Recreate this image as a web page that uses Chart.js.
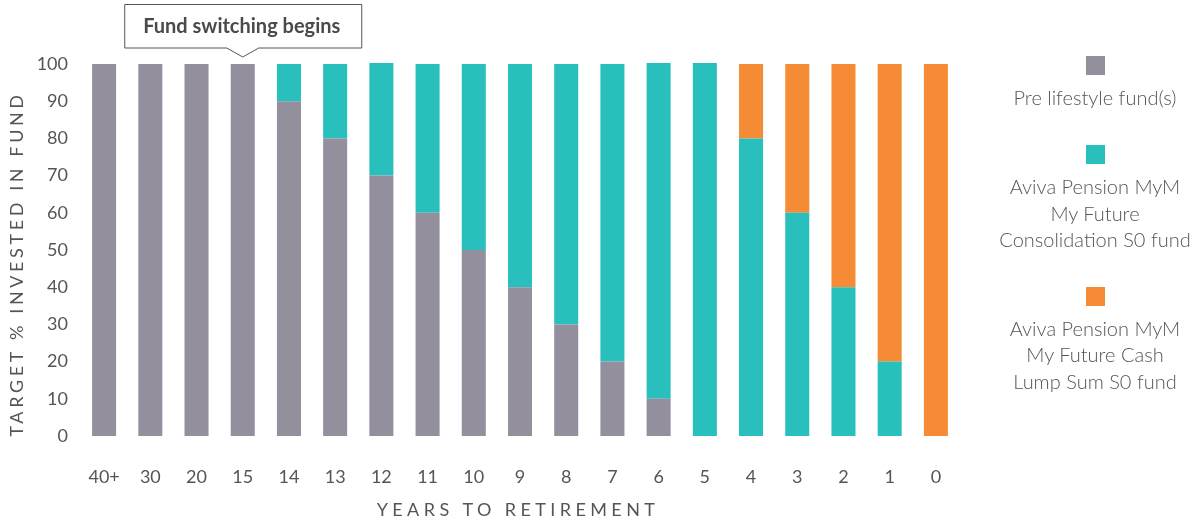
<!DOCTYPE html>
<html>
<head>
<meta charset="utf-8">
<script src="https://cdn.jsdelivr.net/npm/chart.js@4/dist/chart.umd.min.js"></script>
<style>
  html, body { margin: 0; padding: 0; background: #fff; }
  #wrap { position: relative; width: 1200px; height: 523px; }
  #legend { position: absolute; left: 985px; top: 56px; width: 220px; text-align: center;
    font-family: Lato, "Open Sans", sans-serif; font-weight: 300; font-size: 20px; color: #555; line-height: 26.3px; }
  .item { margin-bottom: 35px; }
  .sw { width: 19px; height: 19px; margin: 0 auto 9px auto; }
</style>
</head>
<body>
<div id="wrap">
  <canvas id="c" width="1200" height="523"></canvas>
  <div id="legend"></div>
</div>
<script>
const categories = ["40+","30","20","15","14","13","12","11","10","9","8","7","6","5","4","3","2","1","0"];
const preLifestyle = [100,100,100,100,90,80,70,60,50,40,30,20,10,0,0,0,0,0,0];
const consolidation = [0,0,0,0,10,20,30.3,40,50,60,70,80,90.3,100.3,80,60,40,20,0];
const cashLumpSum = [0,0,0,0,0,0,0,0,0,0,0,0,0,0,20,40,60,80,100];
const seriesLabels = [
  ["Pre lifestyle fund(s)"],
  ["Aviva Pension MyM","My Future","Consolidation S0 fund"],
  ["Aviva Pension MyM","My Future Cash","Lump Sum S0 fund"]
];
const seriesColors = ["#948f9c", "#29bfbc", "#f58c35"];
const yTicks = [0,10,20,30,40,50,60,70,80,90,100];
const yTitle = "TARGET % INVESTED IN FUND";
const xTitle = "YEARS TO RETIREMENT";
const calloutText = "Fund switching begins";
const calloutCategory = "15";

const FONT = 'Lato, "Open Sans", sans-serif';

const decor = {
  id: 'decor',
  afterDraw(chart) {
    const ctx = chart.ctx, ca = chart.chartArea;
    ctx.save();
    // axis titles
    ctx.fillStyle = '#555';
    ctx.font = '18px ' + FONT;
    ctx.textAlign = 'center';
    ctx.textBaseline = 'middle';
    ctx.letterSpacing = '4.4px';
    ctx.fillText(xTitle, (ca.left + ca.right) / 2 - 2, 510);
    ctx.letterSpacing = '3.6px';
    ctx.save();
    ctx.translate(17, 264);
    ctx.rotate(-Math.PI / 2);
    ctx.fillText(yTitle, 0, 0);
    ctx.restore();
    ctx.letterSpacing = '0px';
    // callout
    const px = chart.scales.x.getPixelForValue(categories.indexOf(calloutCategory));
    const bx = px - 118, bw = 237, by = 4.5, bh = 43.5;
    const apexY = 57;
    ctx.strokeStyle = '#555';
    ctx.lineWidth = 1;
    ctx.fillStyle = '#fff';
    ctx.beginPath();
    ctx.moveTo(bx, by);
    ctx.lineTo(bx + bw, by);
    ctx.lineTo(bx + bw, by + bh);
    ctx.lineTo(px + 16, by + bh);
    ctx.lineTo(px, apexY);
    ctx.lineTo(px - 16, by + bh);
    ctx.lineTo(bx, by + bh);
    ctx.closePath();
    ctx.fill();
    ctx.stroke();
    ctx.fillStyle = '#4a4a4a';
    ctx.font = 'bold 20px ' + FONT;
    ctx.fillText(calloutText, px - 1, 27);
    ctx.restore();
  }
};

const chart = new Chart(document.getElementById('c'), {
  type: 'bar',
  data: {
    labels: categories,
    datasets: [
      { label: seriesLabels[0].join(' '), data: preLifestyle, backgroundColor: seriesColors[0] },
      { label: seriesLabels[1].join(' '), data: consolidation, backgroundColor: seriesColors[1] },
      { label: seriesLabels[2].join(' '), data: cashLumpSum, backgroundColor: seriesColors[2] }
    ].map(d => Object.assign(d, { barPercentage: 0.52, categoryPercentage: 1, borderWidth: 0, clip: false }))
  },
  options: {
    responsive: false,
    animation: false,
    layout: { padding: { top: 64, right: 241, left: 0, bottom: 0 } },
    plugins: { legend: { display: false }, tooltip: { enabled: false } },
    scales: {
      x: {
        stacked: true,
        grid: { display: false, drawTicks: false },
        border: { display: false },
        ticks: { color: '#555', font: { family: FONT, size: 18 }, padding: 30, maxRotation: 0, autoSkip: false },
        afterFit(s) { s.height = 87; }
      },
      y: {
        stacked: true,
        min: 0, max: 100,
        grid: { display: false, drawTicks: false },
        border: { display: false },
        afterBuildTicks(s) { s.ticks = yTicks.map(v => ({ value: v })); },
        ticks: { color: '#555', font: { family: FONT, size: 18 }, padding: 13 },
        afterFit(s) { s.width = 81; }
      }
    }
  },
  plugins: [decor]
});

// HTML legend built from the datasets
const leg = document.getElementById('legend');
chart.data.datasets.forEach((d, i) => {
  const item = document.createElement('div');
  item.className = 'item';
  const sw = document.createElement('div');
  sw.className = 'sw';
  sw.style.background = d.backgroundColor;
  item.appendChild(sw);
  seriesLabels[i].forEach(line => {
    const l = document.createElement('div');
    l.textContent = line;
    item.appendChild(l);
  });
  leg.appendChild(item);
});
</script>
</body>
</html>
